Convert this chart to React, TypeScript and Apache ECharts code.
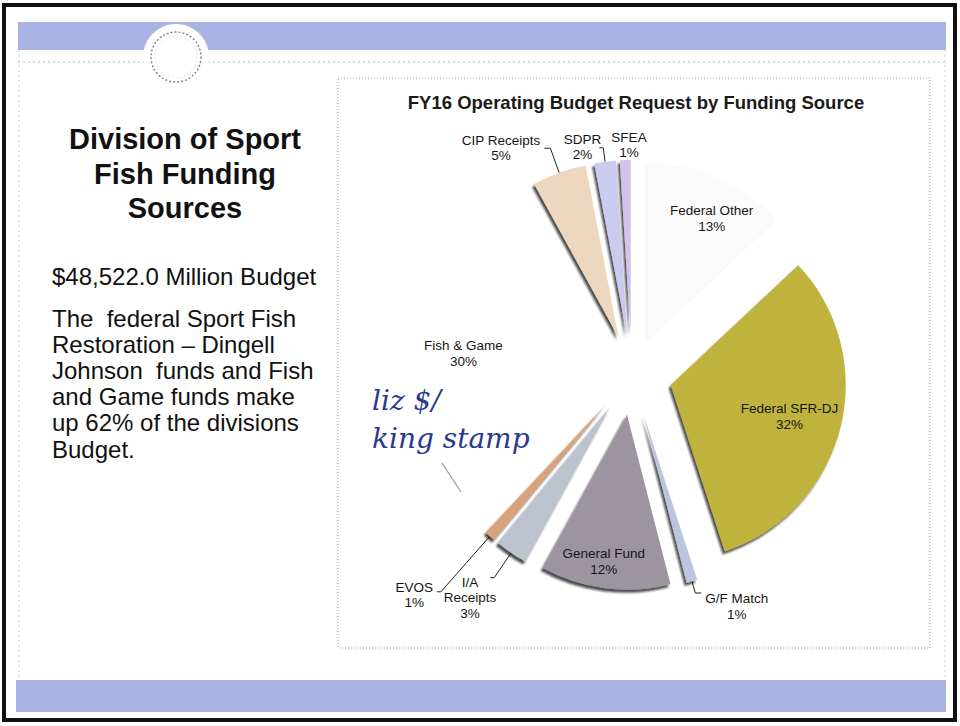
import React, { useEffect, useRef } from "react";
import * as echarts from "echarts";

// ---------- data ----------
const categories = [
  "Federal Other",
  "Federal SFR-DJ",
  "G/F Match",
  "General Fund",
  "I/A Receipts",
  "EVOS",
  "Fish & Game",
  "CIP Receipts",
  "SDPR",
  "SFEA",
];
const percentShares = [13, 32, 1, 12, 3, 1, 30, 5, 2, 1];
const chartTitle = "FY16 Operating Budget Request by Funding Source";
const slideTitleLines = ["Division of Sport", "Fish Funding", "Sources"];
const budgetLine = "$48,522.0 Million Budget";
const noteLines = [
  "The  federal Sport Fish",
  "Restoration \u2013 Dingell",
  "Johnson  funds and Fish",
  "and Game funds make",
  "up 62% of the divisions",
  "Budget.",
];
const handNoteLines = ["liz $/", "king stamp"];

// ---------- styles ----------
const FONT = '"Liberation Sans", Arial, Helvetica, sans-serif';
const SLICE_COLORS: Record<string, string> = {
  "Federal Other": "#fbfbfc",
  "Federal SFR-DJ": "#bfb33c",
  "G/F Match": "#bcc4e0",
  "General Fund": "#9c95a0",
  "I/A Receipts": "#bcc3cf",
  EVOS: "#d8a27a",
  "Fish & Game": "#ffffff",
  "CIP Receipts": "#edd8bf",
  SDPR: "#cacbee",
  SFEA: "#d2c3e8",
};
const SHADOWS: Record<string, string> = {
  "Federal Other": "rgba(0,0,0,0.06)",
  "Fish & Game": "rgba(0,0,0,0)",
};
const INSIDE = new Set(["Federal Other", "Federal SFR-DJ", "General Fund", "Fish & Game"]);
const LINE_LEN: Record<string, [number, number, boolean]> = {
  "CIP Receipts": [26, 6, true],
  SDPR: [14, 4, true],
  SFEA: [8, 0, false],
  EVOS: [74, 4, true],
  "I/A Receipts": [30, 4, true],
  "G/F Match": [12, 6, true],
};
const OUTSIDE_TWEAK: Record<string, any> = {
  SFEA: { align: "center", dx: 8, dy: -7 },
  SDPR: { dx: 6, dy: -1 },
  "I/A Receipts": { verticalAlign: "top", dx: 10, dy: -3 },
  "G/F Match": { verticalAlign: "top", dy: -2 },
  EVOS: { dy: 3 },
};
const INSIDE_TWEAK: Record<string, any> = {
  "Federal Other": { dx: 9, dy: 7 },
  "Federal SFR-DJ": { dx: -15, dy: -3 },
  "General Fund": { dx: -6, dy: 10 },
  "Fish & Game": { dx: 8, dy: 1 },
};

const PIE_CENTER = [632, 375];
const PIE_R = 175;
const EXPLODE = 40;
const BAND = "#a9b4e4";

export default function App() {
  const ref = useRef<HTMLDivElement>(null);

  useEffect(() => {
    if (!ref.current) return;
    const chart = echarts.init(ref.current, undefined, { renderer: "svg" });

    const mainData = categories.map((name, i) => {
      const out = !INSIDE.has(name);
      const ll = LINE_LEN[name] || [10, 5, false];
      return {
        name,
        value: percentShares[i],
        selected: true,
        itemStyle: {
          color: SLICE_COLORS[name],
          shadowColor: SHADOWS[name] || "rgba(25,25,25,0.75)",
          shadowBlur: 2,
          shadowOffsetX: -2,
          shadowOffsetY: 3,
        },
        label: { show: out },
        labelLine: { show: out && ll[2], length: ll[0], length2: ll[1] },
      };
    });

    const labelData = categories.map((name, i) => ({
      name,
      value: percentShares[i],
      selected: true,
      label: { show: INSIDE.has(name) },
    }));

    const txt = (x: number, y: number, text: string, font: string, align: string, extra: any = {}) => ({
      type: "text",
      x,
      y,
      ...extra,
      style: {
        text,
        font,
        fill: extra.fill || "#111",
        align,
        textAlign: align,
        verticalAlign: "middle",
        textVerticalAlign: "middle",
      },
    });

    const graphics: any[] = [];
    graphics.push(
      { type: "rect", shape: { x: 4, y: 5, width: 951, height: 715 }, style: { fill: "#fff", stroke: "#111", lineWidth: 4 }, z: -10 },
      { type: "rect", shape: { x: 18, y: 22, width: 928, height: 28 }, style: { fill: BAND }, z: -9 },
      { type: "rect", shape: { x: 16, y: 680, width: 930, height: 32 }, style: { fill: BAND }, z: -9 },
      { type: "line", shape: { x1: 18, y1: 62, x2: 945, y2: 62 }, style: { stroke: "#b5b5b5", lineWidth: 1, lineDash: [2, 3] }, z: -9 },
      { type: "line", shape: { x1: 19, y1: 50, x2: 19, y2: 680 }, style: { stroke: "#c8c8c8", lineWidth: 1, lineDash: [2, 3] }, z: -9 },
      { type: "line", shape: { x1: 945, y1: 50, x2: 945, y2: 680 }, style: { stroke: "#d0d0d0", lineWidth: 1, lineDash: [2, 3] }, z: -9 },
      { type: "circle", shape: { cx: 176, cy: 57, r: 33 }, style: { fill: "#fff" }, z: -8 },
      { type: "circle", shape: { cx: 176, cy: 57, r: 25 }, style: { fill: "#fff", stroke: "#808080", lineWidth: 1.4, lineDash: [2, 2] }, z: -7 },
      { type: "circle", shape: { cx: 176, cy: 57, r: 21 }, style: { fill: "none", stroke: "#c0c0c0", lineWidth: 0.8, lineDash: [1, 3] }, z: -7 },
      { type: "rect", shape: { x: 338, y: 78, width: 592, height: 570 }, style: { fill: "none", stroke: "#a0a0a0", lineWidth: 1, lineDash: [1, 2] }, z: -8 }
    );
    slideTitleLines.forEach((t, i) => {
      graphics.push(txt(185, 139 + i * 34.5, t, `bold 29px ${FONT}`, "center"));
    });
    graphics.push(txt(52, 276, budgetLine, `24px ${FONT}`, "left"));
    noteLines.forEach((t, i) => {
      graphics.push(txt(52, 318 + i * 26.2, t, `24px ${FONT}`, "left"));
    });
    handNoteLines.forEach((t, i) => {
      graphics.push(
        txt(372, 400 + i * 38, t, `italic 28px "DejaVu Serif", serif`, "left", { fill: "#2a3890", z: 100 })
      );
    });
    graphics.push({ type: "line", shape: { x1: 442, y1: 463, x2: 461, y2: 492 }, style: { stroke: "#9a9a9a", lineWidth: 1.2 }, z: 100 });

    const outsideFormatter = (p: any) => {
      const nameLines = p.name === "I/A Receipts" ? ["I/A", "Receipts"] : [p.name];
      return [...nameLines, `${p.value}%`].map((s) => `{c|${s}}`).join("\n");
    };

    chart.setOption({
      animation: false,
      backgroundColor: "#ffffff",
      textStyle: { fontFamily: FONT },
      title: {
        text: chartTitle,
        left: 636,
        top: 93,
        padding: 0,
        textAlign: "center",
        textStyle: { fontSize: 18.5, fontWeight: "bold", color: "#1a1a1a", fontFamily: FONT },
      },
      graphic: { elements: graphics },
      series: [
        {
          type: "pie",
          name: "slices",
          center: PIE_CENTER,
          radius: [0, PIE_R],
          startAngle: 90,
          clockwise: true,
          selectedMode: "multiple",
          selectedOffset: EXPLODE,
          avoidLabelOverlap: false,
          silent: true,
          emphasis: { disabled: true },
          select: { itemStyle: { borderWidth: 0 } },
          itemStyle: { borderWidth: 0 },
          label: {
            position: "outside",
            formatter: outsideFormatter,
            distanceToLabelLine: 4,
            rich: { c: { align: "center", fontSize: 13.5, lineHeight: 15.5, color: "#151515", fontFamily: FONT } },
          },
          labelLine: { lineStyle: { color: "#222", width: 1 }, smooth: false },
          labelLayout: (p: any) => OUTSIDE_TWEAK[categories[p.dataIndex]] || {},
          data: mainData,
          z: 2,
        },
        {
          type: "pie",
          name: "labels",
          center: PIE_CENTER,
          radius: [95, PIE_R],
          startAngle: 90,
          clockwise: true,
          selectedMode: "multiple",
          selectedOffset: EXPLODE,
          avoidLabelOverlap: false,
          silent: true,
          emphasis: { disabled: true },
          itemStyle: { color: "rgba(0,0,0,0)", borderWidth: 0 },
          label: {
            position: "inside",
            formatter: "{b}\n{c}%",
            fontSize: 13.5,
            lineHeight: 16,
            color: "#151515",
            fontFamily: FONT,
          },
          labelLine: { show: false },
          labelLayout: (p: any) => INSIDE_TWEAK[categories[p.dataIndex]] || {},
          data: labelData,
          z: 3,
        },
      ],
    });

    return () => chart.dispose();
  }, []);

  return (
    <div
      ref={ref}
      style={{ position: "absolute", left: 0, top: 0, width: 960, height: 726, background: "#fff" }}
    />
  );
}
